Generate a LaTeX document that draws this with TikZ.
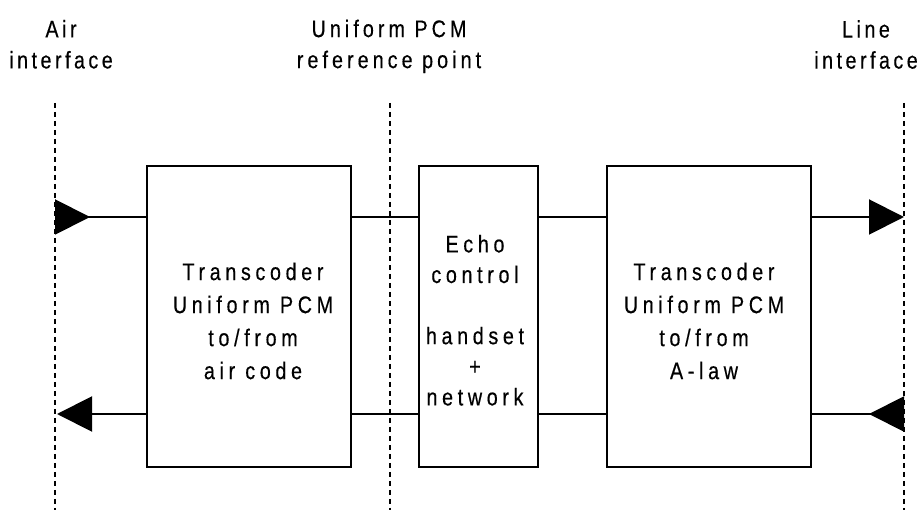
\documentclass[tikz,border=0pt]{standalone}
\usepackage{fontspec}
\setmainfont{Liberation Sans}[FakeStretch=0.82,LetterSpace=14.6,FakeBold=0.4]
\newfontfamily\boxfont{Liberation Sans}[FakeStretch=0.82,LetterSpace=19.5,FakeBold=0.4]
\newfontfamily\midfont{Liberation Sans}[FakeStretch=0.82,LetterSpace=17,FakeBold=0.4]
\usetikzlibrary{arrows.meta}
\begin{document}
\begin{tikzpicture}[x=1pt,y=-1pt,
  blk/.style={draw,line width=2.6pt,inner sep=0pt},
  iface/.style={line width=2pt,dash pattern=on 5pt off 4pt},
  conn/.style={line width=2pt},
  lbl/.style={align=center,inner sep=0pt,anchor=north,font=\fontsize{24}{31}\selectfont},
  btxt/.style={align=center,inner sep=0pt,anchor=north,font=\boxfont\fontsize{24}{33}\selectfont},
  tipin/.style={-{Triangle[reversed,length=35pt,width=35pt]}},
  tipout/.style={-{Triangle[length=35pt,width=35pt]}}]
\useasboundingbox (0,0) rectangle (919,510);
% interface lines
\coordinate (L1) at (55,103);  \coordinate (L2) at (55,510);
\coordinate (M1) at (390,103); \coordinate (M2) at (390,510);
\coordinate (R1) at (904,103); \coordinate (R2) at (904,510);
\draw[iface] (L1) -- (L2);
\draw[iface] (M1) -- (M2);
\draw[iface] (R1) -- (R2);
% top labels
\node[lbl] (lAir) at (61,19.8) {Air\\interface};
\node[lbl,font=\midfont\fontsize{24}{31}\selectfont] (lPCM) at (389,19.5) {Uniform PCM\\reference point};
\node[lbl] (lLine) at (866,20) {Line\\interface};
% boxes
\node[blk,minimum width=204pt,minimum height=301pt] (TL) at (249,316.5) {};
\node[blk,minimum width=119pt,minimum height=301pt] (EC) at (478.5,316.5) {};
\node[blk,minimum width=204pt,minimum height=301pt] (TR) at (709,316.5) {};
% box texts
\node[btxt] (tTL) at (253,262.5) {Transcoder\\Uniform PCM\\to/from\\air code};
\node[btxt,font=\boxfont\fontsize{24}{30.6}\selectfont] (tEC) at (475,234.8) {Echo\\control\\[30.6pt]handset\\+\\network};
\node[btxt] (tTR) at (704,262.5) {Transcoder\\Uniform PCM\\to/from\\A-law};
% connector levels
\coordinate (aT) at (55,217);  \coordinate (aB) at (57,414);
\coordinate (bT) at (904,217); \coordinate (bB) at (904,414);
% connectors
\draw[conn,tipin] (TL.west |- aT) -- (aT);
\draw[conn,tipout] (TL.west |- aB) -- (aB);
\draw[conn] (TL.east |- aT) -- (EC.west |- aT);
\draw[conn] (TL.east |- aB) -- (EC.west |- aB);
\draw[conn] (EC.east |- aT) -- (TR.west |- aT);
\draw[conn] (EC.east |- aB) -- (TR.west |- aB);
\draw[conn,tipout] (TR.east |- bT) -- (bT);
\draw[conn,tipin] (TR.east |- bB) -- (bB);
\end{tikzpicture}
\end{document}
